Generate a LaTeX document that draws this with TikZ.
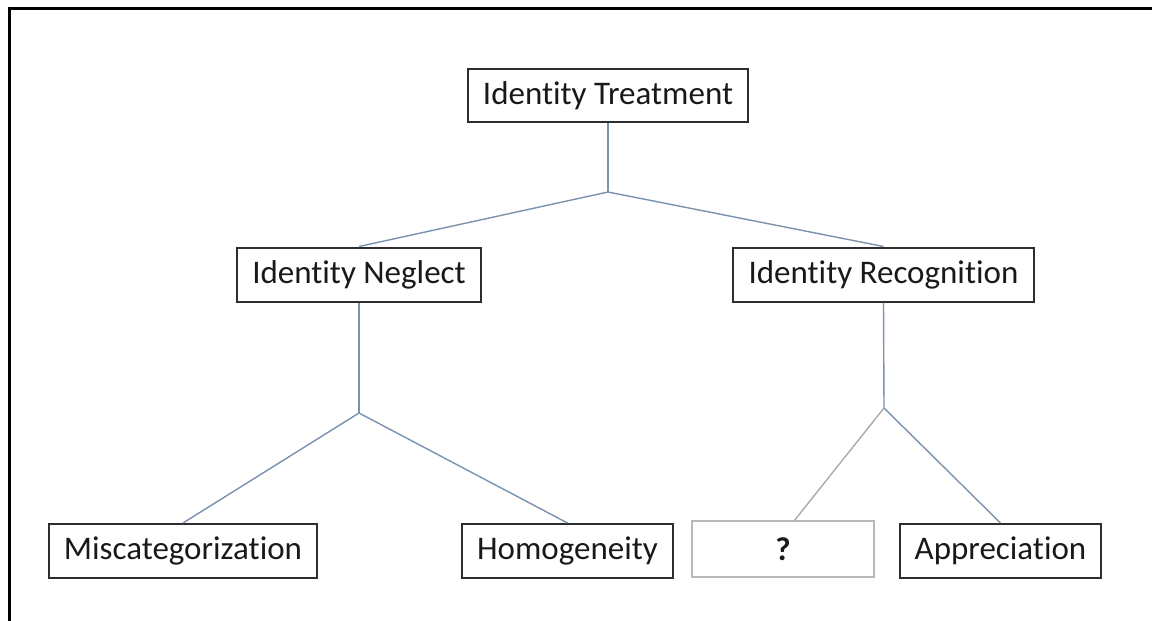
\documentclass[tikz,border=0pt]{standalone}
\usepackage{fontspec}
\setmainfont[Ligatures=NoCommon]{Carlito}
\definecolor{boxc}{RGB}{45,45,45}
\definecolor{linkc}{RGB}{122,146,172}
\definecolor{greyc}{RGB}{170,170,170}
\definecolor{qboxc}{RGB}{185,185,185}
\begin{document}
\begin{tikzpicture}[x=0.5pt,y=-0.5pt,
  box/.style={draw=boxc, line width=1pt, inner sep=0pt, minimum height=27pt,
    font=\fontsize{16.5}{19}\selectfont, text=black!90},
  link/.style={draw=linkc, line width=0.7pt},
  greylink/.style={draw=greyc, line width=0.7pt},
  frameline/.style={draw=black, line width=1.5pt}]
\useasboundingbox (0,0) rectangle (1152,621);
% frame
\coordinate (fa) at (9,621);
\coordinate (fb) at (9,8.5);
\coordinate (fc) at (1152,8.5);
\draw[frameline] (fa) -- (fb) -- (fc);
% nodes
\node[box, minimum width=140pt, minimum height=26.5pt] (T) at (608,95.5) {Identity Treatment};
\node[box, minimum width=122pt] (N) at (359,274.5) {Identity Neglect};
\node[box, minimum width=150.5pt] (R) at (883.5,274.5) {Identity Recognition};
\node[box, minimum width=134pt] (M) at (183,551) {Miscategorization};
\node[box, minimum width=105.5pt] (H) at (567.5,551) {Homogeneity};
\node[box, draw=qboxc, minimum width=91pt, minimum height=28pt, font=\fontsize{16.5}{19}\selectfont\bfseries] (Q) at (783,549) {?};
\node[box, minimum width=100.5pt] (A) at (1000.5,551) {Appreciation};
% junctions
\coordinate (J1) at (608,192);
\coordinate (J2) at (359,413);
\coordinate (J3) at (884,408);
\coordinate (Qtop) at (794,521);
% connectors
\draw[link] (T.south) -- (J1);
\draw[link] (J1) -- (N.north);
\draw[link] (J1) -- (R.north);
\draw[link] (N.south) -- (J2);
\draw[link] (J2) -- (M.north);
\draw[link] (J2) -- (H.north);
\draw[link] (R.south) -- (J3);
\draw[greylink] (J3) -- (Qtop);
\draw[link] (J3) -- (A.north);
\end{tikzpicture}
\end{document}
